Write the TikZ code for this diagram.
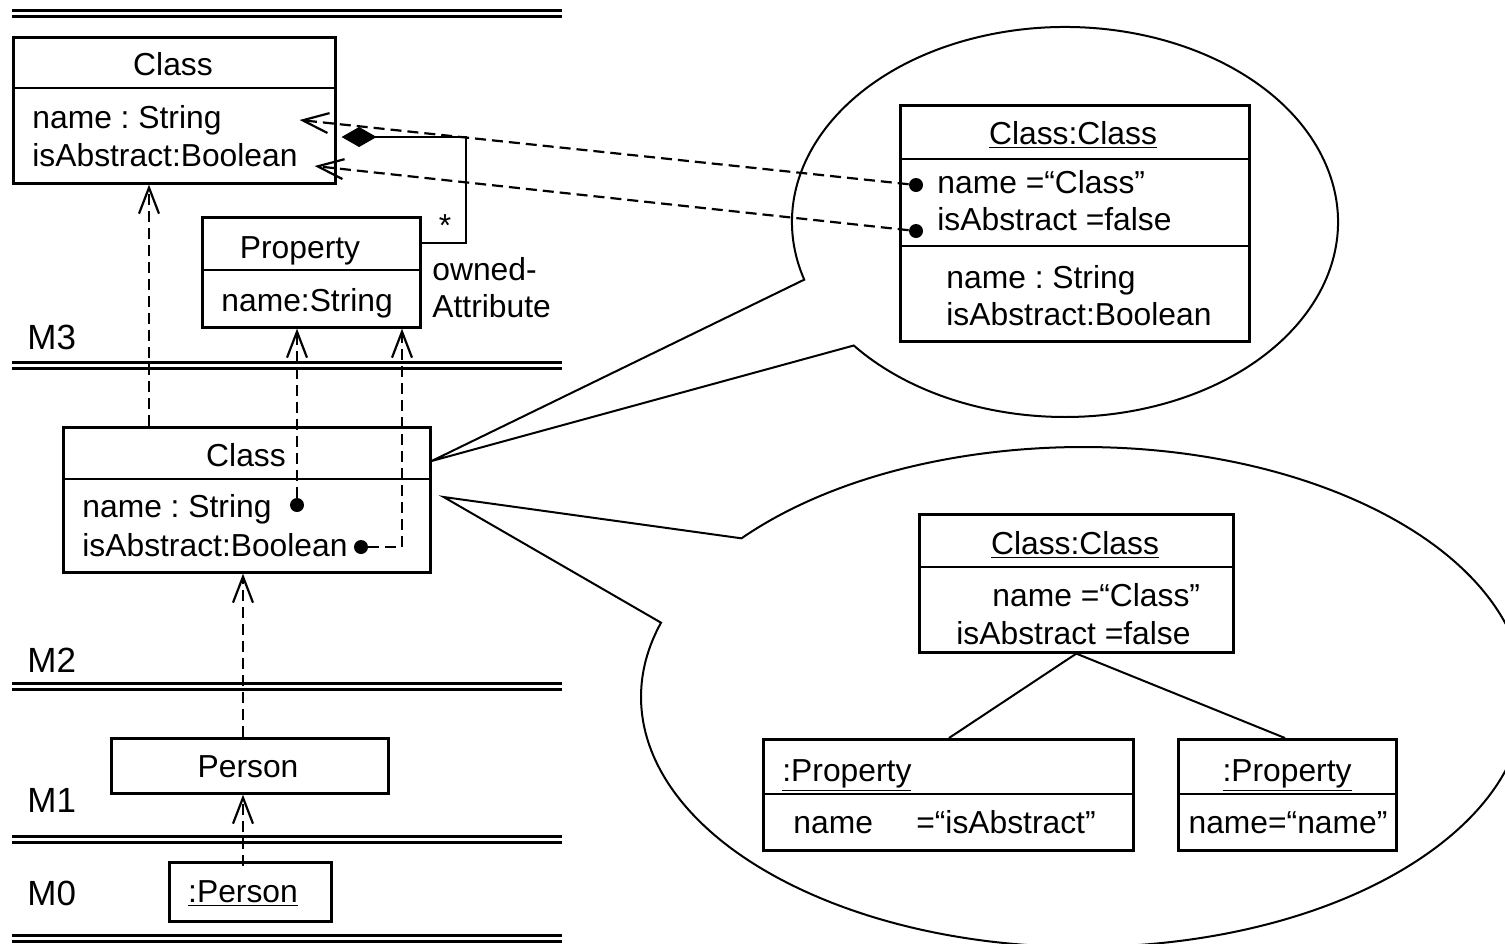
\documentclass[tikz,border=0pt]{standalone}
\usepackage{fontspec}
\setmainfont{Liberation Sans}
\usetikzlibrary{arrows.meta,calc}
\newcommand\fsz{\fontsize{15.9}{19}\selectfont\frenchspacing}
\newcommand\msz{\fontsize{17.5}{21}\selectfont}
\begin{document}
\begin{tikzpicture}[x=0.5pt,y=-0.5pt,
  box/.style={draw, line width=1.3pt, anchor=north west, inner sep=0pt},
  divl/.style={line width=1.3pt},
  txt/.style={inner sep=0pt, anchor=base west, font=\fsz},
  ctxt/.style={inner sep=0pt, anchor=base, font=\fsz},
  lvl/.style={inner sep=0pt, anchor=base west, font=\msz},
  sep/.style={double, double distance=1.5pt, line width=1.5pt},
  dep/.style={line width=1.1pt, dash pattern=on 5.5pt off 3pt, -{Straight Barb[length=13pt,width=10pt,line width=1.1pt]}},
  dotn/.style={circle, fill, inner sep=0pt, minimum size=7pt},
  cl/.style={line width=1pt},
  lnk/.style={line width=1pt}]
\useasboundingbox (0,0) rectangle (1505,943);
\clip (0,0) rectangle (1505,943);

% level separators
\foreach \yy in {13,365,686,839,938} \draw[sep] (12,\yy) -- (562,\yy);
\node[lvl] (m3) at (27,349) {M3};
\node[lvl] (m2) at (27,672) {M2};
\node[lvl] (m1) at (27,812) {M1};
\node[lvl] (m0) at (27,905) {M0};

% M3 Class
\node[box, minimum width=161pt, minimum height=73pt] (c3) at (12,36) {};
\draw[divl] ([yshift=-26pt]c3.north west) -- ([yshift=-26pt]c3.north east);
\node[ctxt] (c3t) at (173,75) {Class};
\node[txt] (c3a) at (32,128) {name : String};
\node[txt] (c3b) at (32,166) {isAbstract:Boolean};

% M3 Property
\node[box, minimum width=109pt, minimum height=55pt] (p3) at (201,216) {};
\draw[divl] ([yshift=-27pt]p3.north west) -- ([yshift=-27pt]p3.north east);
\node[ctxt] (p3t) at (300,258) {Property};
\node[txt] (p3a) at (221,311) {name:String};

% composition
\coordinate (cj) at ([xshift=2.5pt,yshift=-50.5pt]c3.north east);
\coordinate (cc) at (466,137);
\draw[line width=1.1pt, -{Diamond[length=17.5pt,width=10pt]}] ([yshift=-13.5pt]p3.north east) -| (cc) -- (cj);
\node[ctxt] (star) at (445,236) {*};
\node[txt] (own1) at (432,280) {owned-};
\node[txt] (own2) at (432,317) {Attribute};

% M2 Class
\node[box, minimum width=183.5pt, minimum height=72.5pt] (c2) at (62,426) {};
\draw[divl] ([yshift=-26.5pt]c2.north west) -- ([yshift=-26.5pt]c2.north east);
\node[ctxt] (c2t) at (246,466) {Class};
\node[txt] (c2a) at (82,517) {name : String};
\node[txt] (c2b) at (82,556) {isAbstract:Boolean};
\node[dotn] (d1) at (297,505) {};
\node[dotn] (d2) at (361,547) {};

% M1 / M0
\node[box, minimum width=138.5pt, minimum height=27.5pt] (per) at (110,737) {};
\node[ctxt] (pert) at (248,777) {Person};
\node[box, minimum width=81pt, minimum height=29.5pt] (pp) at (168,861) {};
\node[ctxt] (ppt) at (243,902) {\underline{:Person}};

% instance-of dependencies
\coordinate (c2a0) at ([xshift=43.5pt]c2.north west);
\draw[dep] (c2a0) -- (c2a0 |- c3.south);
\draw[dep, shorten <=-2.5pt] (ppt.north |- pp.north) -- (ppt.north |- per.south);
\draw[dep] (ppt.north |- per.north) -- (ppt.north |- c2.south);
\draw[dep] (d1) -- (d1 |- p3.south);
\coordinate (p3b) at ([xshift=100.5pt]p3.south west);
\draw[dep] (d2) -| (p3b);

% callouts
\coordinate (e1) at (1065,222);
\coordinate (tip1) at ([yshift=-17.5pt]c2.north east);
\draw[cl] (tip1) -- ($(e1)+(162.8:273 and 195)$) arc[start angle=162.8, end angle=500.7, x radius=273, y radius=195] -- cycle;
\coordinate (e2) at (1083,697);
\coordinate (tip2) at ([xshift=6pt,yshift=-35.5pt]c2.north east);
\draw[cl] (tip2) -- ($(e2)+(219.4:442 and 250)$) arc[start angle=219.4, end angle=557.3, x radius=442, y radius=250] -- cycle;

% upper object
\node[box, minimum width=174.5pt, minimum height=118pt] (oc1) at (899,104) {};
\draw[divl] ([yshift=-27.5pt]oc1.north west) -- ([yshift=-27.5pt]oc1.north east);
\draw[divl] ([yshift=-71pt]oc1.north west) -- ([yshift=-71pt]oc1.north east);
\node[ctxt] (oc1t) at (1073,144) {\underline{Class:Class}};
\node[txt] (oc1a) at (937,193) {name =“Class”};
\node[txt] (oc1b) at (937,230) {isAbstract =false};
\node[txt] (oc1c) at (946,288) {name : String};
\node[txt] (oc1d) at (946,325) {isAbstract:Boolean};
\node[dotn] (d3) at (916,185) {};
\node[dotn] (d4) at (916,231) {};
\coordinate (t1) at ([xshift=-18.5pt,yshift=-42pt]c3.north east);
\coordinate (t2) at ([xshift=-11pt,yshift=-65pt]c3.north east);
\draw[dep] (d3) -- (t1);
\draw[dep] (d4) -- (t2);

% lower objects
\node[box, minimum width=157pt, minimum height=69pt] (oc2) at (918,513) {};
\draw[divl] ([yshift=-27pt]oc2.north west) -- ([yshift=-27pt]oc2.north east);
\node[ctxt] (oc2t) at (1075,554) {\underline{Class:Class}};
\node[txt] (oc2a) at (992,606) {name =“Class”};
\node[txt] (oc2b) at (956,644) {isAbstract =false};

\node[box, minimum width=185pt, minimum height=55.5pt] (opA) at (762,738) {};
\draw[divl] ([yshift=-28pt]opA.north west) -- ([yshift=-28pt]opA.north east);
\node[txt] (opAt) at (782,781) {\underline{:Property}};
\node[txt] (opAa) at (793,833) {name\hspace{21.7pt}=“isAbstract”};

\node[box, minimum width=109pt, minimum height=55.5pt] (opB) at (1177,738) {};
\draw[divl] ([yshift=-28pt]opB.north west) -- ([yshift=-28pt]opB.north east);
\node[ctxt] (opBt) at (1287,781) {\underline{:Property}};
\node[ctxt] (opBa) at (1288,833) {name=“name”};

\draw[lnk] (oc2.south) -- ([xshift=93.5pt]opA.north west);
\draw[lnk] (oc2.south) -- ([xshift=54pt]opB.north west);
\end{tikzpicture}
\end{document}
